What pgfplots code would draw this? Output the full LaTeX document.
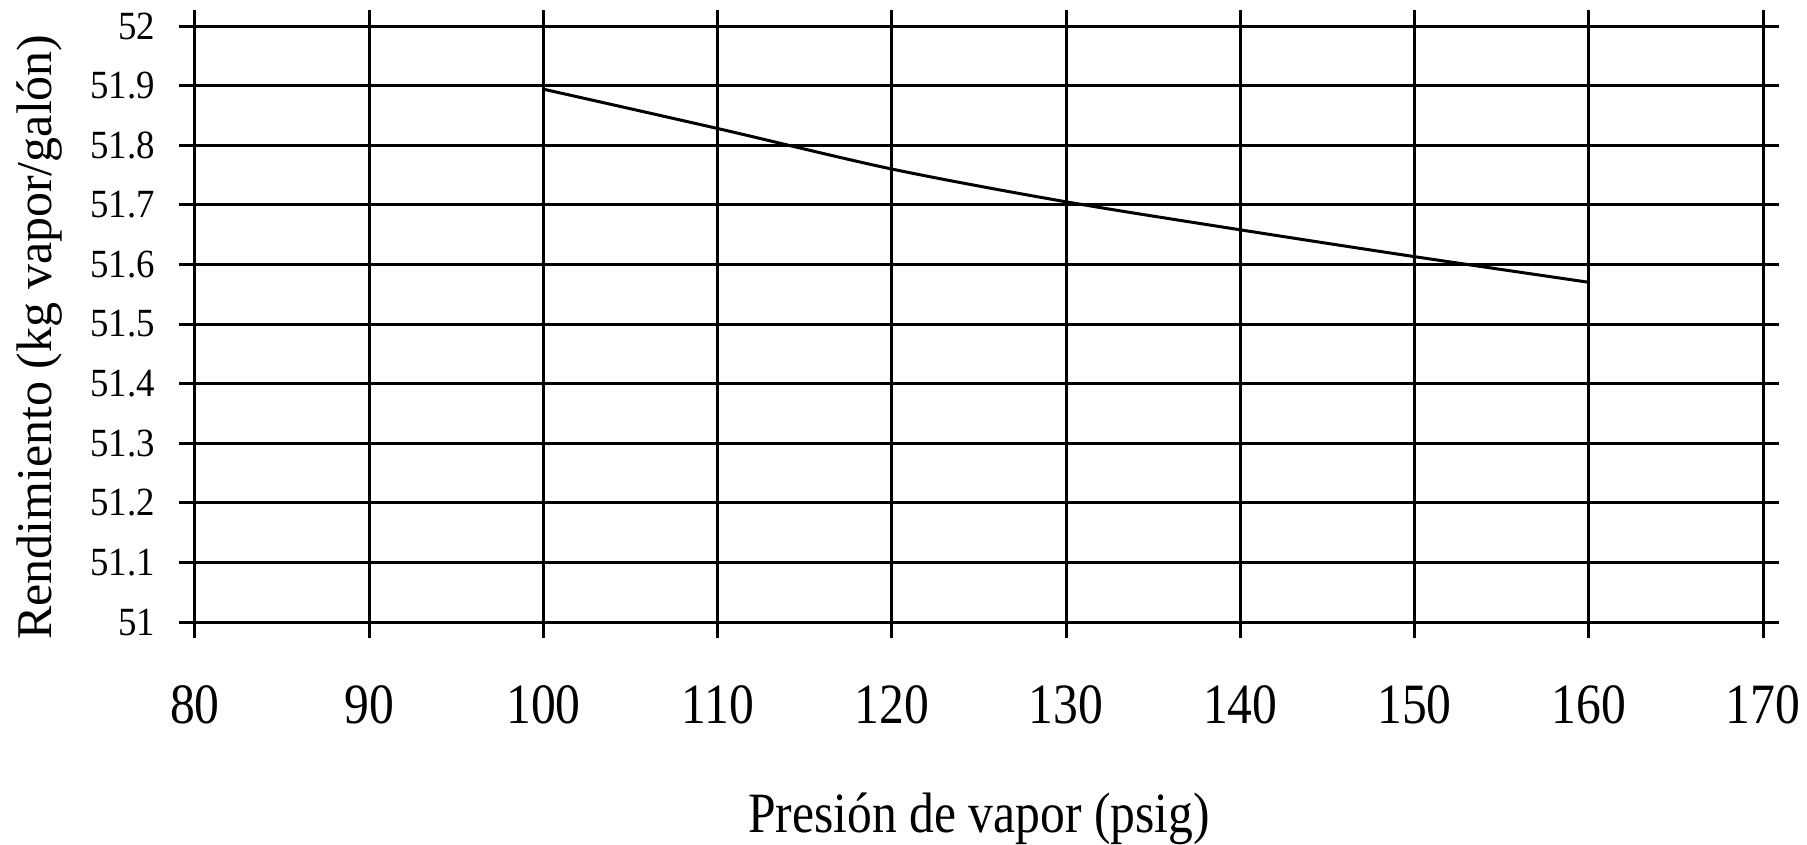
\documentclass[border=0pt]{standalone}
\usepackage{fontspec}
\setmainfont{Liberation Serif}
\newfontfamily\xfont[FakeStretch=0.87]{Liberation Serif}
\newfontfamily\yfont[FakeStretch=0.92]{Liberation Serif}
\usepackage{pgfplots}
\pgfplotsset{compat=1.18}
\begin{document}
\begin{tikzpicture}[x=1pt,y=1pt]
\begin{axis}[
  at={(0,0)}, anchor=south west,
  scale only axis=true,
  width=627.2pt, height=238.4pt,
  xmin=80, xmax=170, ymin=51, ymax=52,
  xtick={80,90,...,170},
  ytick={51,51.1,...,52.01},
  scaled ticks=false,
  /pgf/number format/assume math mode=true,
  /pgf/number format/fixed,
  /pgf/number format/precision=1,
  grid=major,
  grid style={black, line width=1.2pt},
  axis line style={black, line width=1.2pt},
  tick style={black, line width=1.2pt},
  tick align=outside,
  major tick length=6.5pt,
  xticklabel style={font=\xfont\fontsize{22.8}{24}\selectfont, anchor=base, yshift=-34pt},
  yticklabel style={font=\yfont\fontsize{16}{18}\selectfont, anchor=east, xshift=-6pt},
  xlabel={Presión de vapor (psig)},
  ylabel={Rendimiento (kg vapor/galón)},
  xlabel style={font=\xfont\fontsize{22.8}{24}\selectfont, at={(axis description cs:0.5,-0.354)}, anchor=base},
  ylabel style={font=\fontsize{20}{22}\selectfont, at={(axis description cs:-0.0989,0.478)}, anchor=center},
  clip=false,
]
\addplot[black, line width=1.2pt, smooth] coordinates {
  (100,51.894) (110,51.828) (120,51.760) (130,51.705) (140,51.658) (150,51.613) (160,51.570)
};
\end{axis}
\pgfresetboundingbox
\path[use as bounding box] (-78pt,-88.8pt) rectangle (644.8pt,248.8pt);
\end{tikzpicture}
\end{document}
